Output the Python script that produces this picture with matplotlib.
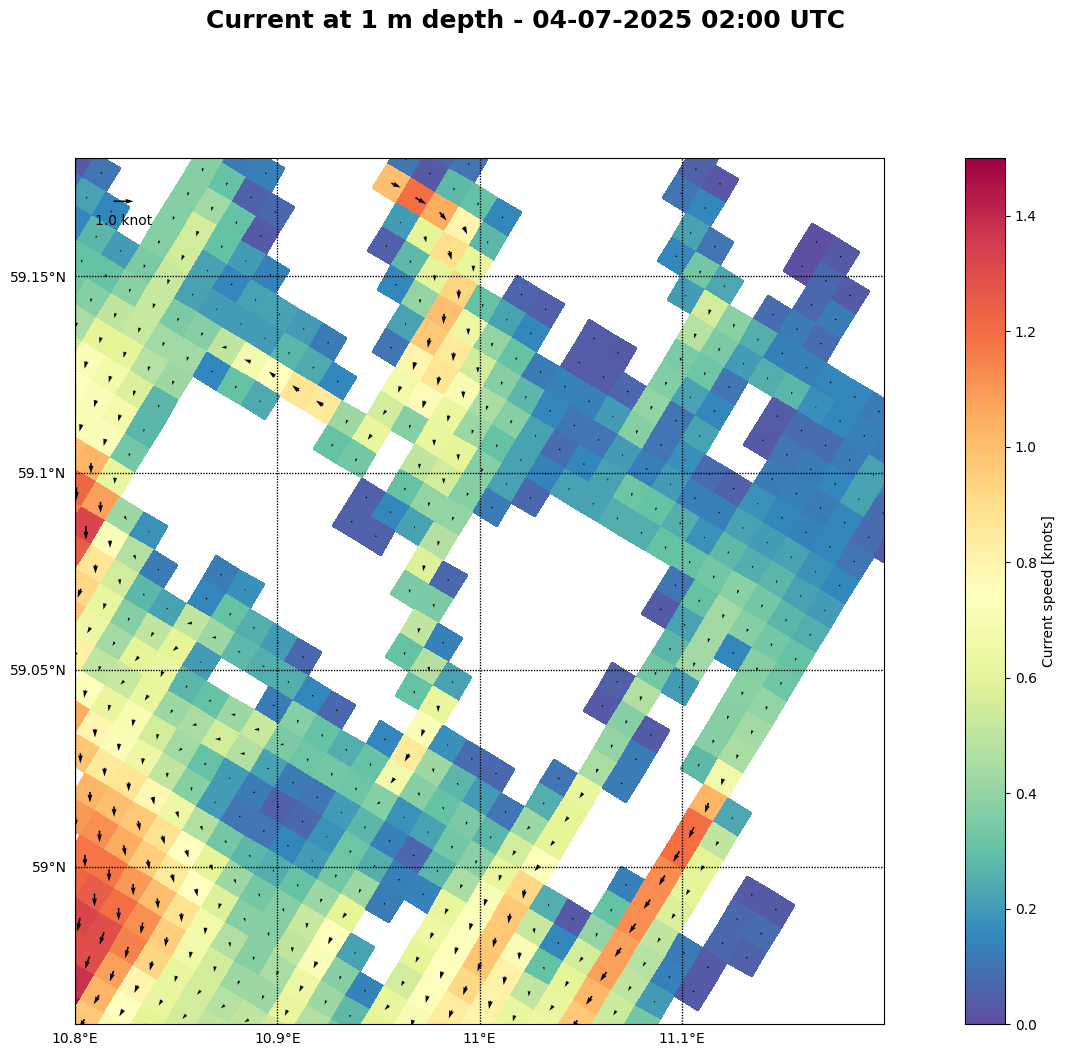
import numpy as np, matplotlib
matplotlib.use('Agg')
import matplotlib.pyplot as plt

N = None
# grid geometry of the rotated model grid
LON0, LAT0 = 11.14478, 59.09845   # centre of cell (28, 12)
DLON_I, DLAT_I = 0.011926, -0.003699
DLON_J, DLAT_J = -0.007204, -0.006136
NI, NJ = 44, 44

# current speed [knots] per grid column: column -> (first row, values)
speed_columns = {
 1: (15, [.03, .1]),
 2: (15, [.1, .22, .15, .25]),
 3: (16, [.15, .27, .3, .33]),
 4: (17, [.2, .3, .37, .45, .55, .7]),
 5: (12, [.37, .37, .37, .37, .37, .35, .38, .5, .6, .72, .75, .75]),
 6: (12, [.12, .3, .43, .55, .55, .52, .52, .52, .6, .67, .72, .72, 1.0, 1.1]),
 7: (12, [.13, .05, .3, .3, .22, .22, .35, .43, .48, .57, .68, .72, 1.03, 1.22, 1.15]),
 8: (13, [.07, .03, .2, .15, .2, .37, .43, .42, .27, .27, .33, .62, 1.08, 1.32, 1.25]),
 9: (15, [.14, .22, .2, .5, .15, N, N, N, N, N, .42, .72, .87, .92, .97]),
 10: (16, [.22, .2, .68, .3, N, N, N, N, N, .18, .47, .55, .62, .65, .82]),
 11: (9, [.1, 1.0, N, N, N, N, N, .2, .27, .75, .24, N, N, N, N, N, N, .12, .27, .37, .43, .5, .73, 1.05]),
 12: (8, [.07, .03, 1.2, .2, .05, N, N, N, .12, .24, .87, N, N, N, N, N, N, N, N, .22, .5, .6, .52, .62, .8, .98]),
 13: (8, [.1, .28, 1.05, .6, .28, .15, N, N, N, .15, .85, N, N, N, N, N, N, .12, .15, .5, .6, .63, .62, .7, .72, .85, 1.03, 1.1]),
 14: (9, [.3, .8, .9, .6, .4, .22, .1, N, N, .42, .3, N, N, N, N, N, .17, .3, .42, .2, .27, .42, .55, .65, .87, 1.0, 1.12, 1.18, 1.22]),
 15: (9, [.15, .27, .62, .93, 1.0, .97, .8, .67, .55, .62, .33, N, N, N, N, N, N, .25, .28, N, .3, .45, .43, .5, .78, .97, 1.05, 1.18, 1.25, 1.33, 1.3]),
 16: (12, [.3, .65, .85, .87, .77, .37, N, N, .05, .05, N, N, N, N, .2, .25, N, .42, .55, .3, .37, .65, .88, .95, 1.1, 1.2, 1.3, 1.3, 1.38, 1.45]),
 17: (11, [.06, .22, .4, .55, .7, .63, .62, .5, .3, .15, .05, N, N, N, N, .07, .25, .12, .52, .47, .2, .2, .47, .75, .85, 1.0, 1.12, 1.15, 1.08, 1.03, .97]),
 18: (11, [.05, .15, .3, .37, .45, .42, .6, .55, .4, .22, N, N, N, N, N, N, .15, .37, .35, .22, .12, .1, .33, .6, .75, .88, .95, .93, .8, .75, .7]),
 19: (13, [.12, .27, .37, .3, .37, .37, .4, .47, .58, .35, N, N, N, N, .07, .3, .32, .12, .05, .1, .27, .42, .58, .67, .67, .62, .62, .6]),
 20: (3, [.07, .05, .1, N, N, N, N, N, .04, .04, .14, .15, .22, .22, .22, .12, N, N, .07, .35, .5, .3, N, N, N, .25, .33, .1, .07, .15, .25, .33, .37, .47, .55, .55, .55, .55]),
 21: (4, [.02, .15, .22, .15, N, N, N, .03, .04, .13, .1, .08, .14, .07, N, N, N, N, N, .13, .47, .3, N, .15, .3, .32, .2, .18, .2, .3, .37, .37, .37, .42, .48, .5]),
 22: (6, [.1, .33, .2, N, N, N, .07, .2, .1, .15, .22, N, N, N, N, N, N, N, .22, .62, .72, .85, .67, .37, .27, .32, .33, .42, .52, .5, .45, .42, .5, .5]),
 23: (7, [.23, .55, .48, .35, .36, .4, .37, .2, .22, .22, N, N, N, N, N, N, N, N, N, .17, .42, .37, .18, .13, .25, .42, .6, .73, .72, .65, .62, .55]),
 24: (8, [.38, .35, .32, .22, .1, .1, .13, .32, .25, N, N, N, N, N, N, N, N, N, .08, .27, .3, .22, .07, .13, .12, N, .22, .37, .42, .47]),
 25: (4, [.0, .0, N, .08, .25, .2, .1, .15, .22, .17, .2, .3, .25, N, N, N, N, N, N, N, N, N, .07, .2, .35, .33, .27, .14, N, N, N, .14, .28, .35]),
 26: (4, [.03, .07, .07, .12, .13, .25, N, N, N, .08, .13, .25, .3, N, N, N, N, N, N, N, N, N, N, .1, .27, .38, .45, .62, .65, .6, .55, .62, .6]),
 27: (5, [.03, .12, .08, .13, .27, .04, .03, N, .05, .13, .18, .3, .1, .03, N, N, .05, .03, N, N, .1, .25, .42, .55, .62, .72, .73, .73, .75, .73, .7]),
 28: (8, [.15, .17, .08, .1, .12, .18, .22, .28, .33, .3, .22, .27, .33, .47, .37, .4, .45, .62, .6, .6, .73, .92, .97, .97, .98, .92, .84, .85]),
 29: (8, [.15, .15, .08, .12, .13, .15, .2, .25, .38, .43, .43, .43, .2, N, .03, .12, .12, N, N, N, N, .25, .52, .72, .82, .82, .8]),
 30: (8, [.12, .13, .12, .15, .12, .14, .22, .27, .33, .37, .15, N, N, N, N, N, N, N, N, N, N, .03, .15, .3, .5, .62, .65]),
 31: (9, [.12, .22, .22, .15, .15, .18, .22, .27, .33, .37, .38, .37, .37, .28, N, N, N, N, .13, .3, .4, .55, .6, .62, .65]),
 32: (10, [.15, .08, .08, .1, .15, .2, .25, .3, .32, .4, .43, .45, .67, 1.03, 1.2, 1.2, 1.13, 1.12, 1.12, 1.08, 1.08, 1.02, .97, .95]),
 33: (12, [.03, N, N, N, N, N, N, N, N, N, N, .23, .5, .6, .6, .57, .5, .48, .5, .53, .55]),
 34: (28, [.12, .13, .2, .33, .33]),
 35: (25, [.03, .07, .07, .03, .03]),
 36: (25, [.03, .08, .05]),
}

# flow bearing [deg from north] per column: (from row, bearing), held until next entry
DEFAULT_BEARING = 195
flow_bearings = {
 5: [(19, 195)], 6: [(12, 200), (17, 195)], 7: [(24, 180)],
 8: [(18, 200), (19, 195), (24, 185), (25, 180)],
 9: [(15, 190), (18, 270), (19, 200), (25, 150), (26, 180), (28, 200)],
 10: [(17, 200), (18, 290), (19, 200), (25, 170), (26, 160), (27, 175), (28, 195), (29, 210)],
 11: [(10, 115), (16, 200), (18, 310), (19, 200), (26, 170), (28, 200), (29, 210), (30, 195), (31, 190)],
 12: [(10, 120), (11, 200), (18, 310), (19, 200), (27, 240), (28, 210), (29, 220), (30, 225), (31, 190), (32, 180)],
 13: [(10, 140), (11, 170), (12, 190), (18, 305), (25, 200), (27, 260), (28, 230), (29, 200), (30, 215), (31, 190), (32, 185), (33, 180)],
 14: [(10, 155), (11, 165), (12, 180), (18, 200), (27, 270), (28, 230), (29, 210), (31, 190), (33, 180)],
 15: [(11, 180), (13, 185), (14, 190), (15, 195), (16, 200), (17, 215), (26, 270), (27, 280), (29, 250), (30, 260), (31, 240), (32, 185), (33, 170), (36, 180), (38, 190)],
 16: [(13, 180), (14, 185), (15, 190), (16, 195), (17, 190), (26, 280), (27, 290), (29, 280), (30, 270), (31, 230), (32, 180), (33, 165), (35, 170), (36, 180), (38, 200), (40, 205)],
 17: [(14, 180), (16, 190), (17, 180), (18, 185), (29, 270), (31, 230), (33, 160), (34, 165), (36, 175), (37, 190), (38, 195), (39, 200), (40, 210)],
 18: [(17, 180), (19, 190), (29, 250), (33, 150), (34, 160), (35, 170), (36, 180), (37, 190), (38, 195), (39, 205), (40, 210)],
 19: [(20, 190), (22, 175), (33, 140), (34, 165), (35, 195), (36, 185), (37, 190), (38, 195), (39, 210)],
 20: [(22, 175), (23, 190), (24, 175), (34, 155), (35, 160), (36, 175), (37, 190), (38, 220), (40, 230)],
 21: [(24, 170), (34, 160), (35, 170), (36, 190), (37, 205), (38, 230)],
 22: [(25, 180), (26, 200), (27, 210), (28, 215), (29, 240), (30, 200), (34, 185), (36, 200), (38, 240)],
 23: [(27, 175), (28, 165), (30, 200), (33, 215), (34, 205)],
 24: [(27, 150), (29, 190), (34, 200)],
 26: [(28, 190), (30, 205), (33, 205), (35, 225)],
 27: [(26, 215), (27, 225), (28, 210), (29, 195)],
 28: [(25, 215), (26, 220), (27, 215), (28, 220), (29, 190), (31, 195), (32, 200)],
 29: [(30, 180), (31, 185), (32, 190)],
 30: [(31, 170), (32, 185), (33, 195)],
 31: [(30, 215), (31, 210), (32, 220)],
 32: [(23, 200), (24, 205), (25, 210), (27, 215)],
 33: [(23, 210)],
}

parallels = [59.0, 59.05, 59.1, 59.15]
parallel_labels = ['59°N', '59.05°N', '59.1°N', '59.15°N']
meridians = [10.8, 10.9, 11.0, 11.1]
meridian_labels = ['10.8°E', '10.9°E', '11°E', '11.1°E']
cbar_ticks = [0, 0.2, 0.4, 0.6, 0.8, 1.0, 1.2, 1.4]
KNOT_TO_MS = 0.514
TITLE = 'Current at 1 m depth - 04-07-2025 02:00 UTC'

speed = np.full((NI, NJ), np.nan)
bearing = np.full((NI, NJ), float(DEFAULT_BEARING))
for i, (j0, vals) in speed_columns.items():
    for k, s in enumerate(vals):
        if s is not None:
            speed[i, j0 + k] = s
for i, table in flow_bearings.items():
    for j, b in table:
        bearing[i, j:] = b

ii, jj = np.meshgrid(np.arange(NI), np.arange(NJ), indexing='ij')
lon = LON0 + (ii - 28) * DLON_I + (jj - 12) * DLON_J
lat = LAT0 + (ii - 28) * DLAT_I + (jj - 12) * DLAT_J
ic, jc = np.meshgrid(np.arange(NI + 1) - .5, np.arange(NJ + 1) - .5, indexing='ij')
lon_c = LON0 + (ic - 28) * DLON_I + (jc - 12) * DLON_J
lat_c = LAT0 + (ic - 28) * DLAT_I + (jc - 12) * DLAT_J

W, H = 1066, 1057
fig = plt.figure(figsize=(W / 100, H / 100), dpi=100)
ax = fig.add_axes([75 / W, 33 / H, 809 / W, 866 / H])
mesh = ax.pcolormesh(lon_c, lat_c, np.ma.masked_invalid(speed), cmap='Spectral_r',
                     vmin=0, vmax=1.5, shading='flat', antialiased=False, edgecolors='none')
mask = ~np.isnan(speed)
rad = np.deg2rad(bearing[mask])
q = ax.quiver(lon[mask], lat[mask],
              speed[mask] * KNOT_TO_MS * np.sin(rad), speed[mask] * KNOT_TO_MS * np.cos(rad),
              scale=40.45, scale_units='width', units='width', width=0.002, color='k', zorder=3)
ax.quiverkey(q, 0.06, 0.95, 1, '1.0 knot', labelpos='S', labelsep=0.125, coordinates='axes',
             fontproperties={'size': 10})
ax.set_xlim(10.8, 11.2)
ax.set_ylim(58.96, 59.18)
ax.set_xticks(meridians, meridian_labels)
ax.set_yticks(parallels, parallel_labels)
ax.tick_params(length=0, labelsize=10, pad=6)
ax.set_axisbelow(False)
ax.grid(True, color='k', lw=1, ls=(0, (1, 1)), zorder=2.5)

cax = fig.add_axes([965 / W, 33 / H, 40 / W, 866 / H])
cb = fig.colorbar(mesh, cax=cax)
cb.set_ticks(cbar_ticks)
cb.set_label('Current speed [knots]', fontsize=10)
fig.text(525.5 / W, 1 - 21 / H, TITLE, ha='center', va='center', fontsize=18, fontweight='bold')
fig.savefig('out.png', dpi=100)
